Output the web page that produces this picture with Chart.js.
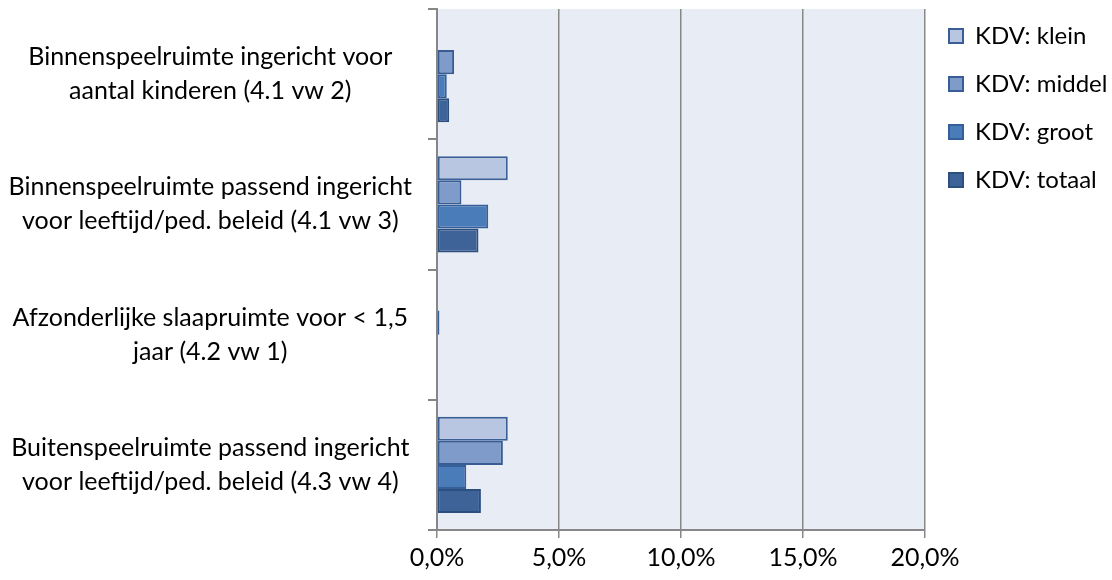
<!DOCTYPE html>
<html>
<head>
<meta charset="utf-8">
<script src="https://cdn.jsdelivr.net/npm/chart.js@4"></script>
<style>
  html, body { margin: 0; padding: 0; background: #fff; }
  #wrap { width: 1112px; height: 580px; }
</style>
</head>
<body>
<div id="wrap"><canvas id="chart" width="1112" height="580"></canvas></div>
<script>
const categories = [
  ["Binnenspeelruimte ingericht voor", "aantal kinderen (4.1 vw 2)"],
  ["Binnenspeelruimte passend ingericht", "voor leeftijd/ped. beleid (4.1 vw 3)"],
  ["Afzonderlijke slaapruimte voor < 1,5", "jaar (4.2 vw 1)"],
  ["Buitenspeelruimte passend ingericht", "voor leeftijd/ped. beleid (4.3 vw 4)"]
];
const seriesNames = ["KDV: klein", "KDV: middel", "KDV: groot", "KDV: totaal"];
const klein = [0, 2.9, 0, 2.9];
const middel = [0.7, 1.0, 0.1, 2.7];
const groot = [0.4, 2.1, 0, 1.2];
const totaal = [0.5, 1.7, 0.03, 1.8];
const xTicks = [0, 5, 10, 15, 20];

const fills = ["#b9c6e1", "#7f9bc9", "#4a7cb9", "#3d6398"];
const borders = ["#3a5f97", "#385d95", "#365f9a", "#2c4f7f"];
const FONT = "Lato";
const GRAY = "#878787";

// light blue plot area like the original
const plotBg = {
  id: "plotBg",
  beforeDraw(c) {
    const a = c.chartArea;
    c.ctx.save();
    c.ctx.fillStyle = "#e8ecf4";
    c.ctx.fillRect(a.left, a.top, a.right - a.left, a.bottom - a.top);
    c.ctx.restore();
  }
};

const values = [klein, middel, groot, totaal];
const datasets = seriesNames.map((n, i) => ({
  label: n,
  data: values[i],
  backgroundColor: fills[i],
  borderColor: borders[i],
  borderWidth: 2,
  borderSkipped: false,
  barPercentage: 1,
  categoryPercentage: 0.74
}));

new Chart(document.getElementById("chart"), {
  type: "bar",
  data: { labels: categories, datasets },
  plugins: [plotBg],
  options: {
    indexAxis: "y",
    responsive: false,
    animation: false,
    layout: { padding: 0, autoPadding: false },
    plugins: {
      tooltip: { enabled: false },
      legend: {
        position: "right",
        align: "start",
        maxWidth: 187,
        labels: {
          font: { family: FONT, size: 24 },
          color: "#000",
          boxWidth: 14,
          boxHeight: 14,
          padding: 24
        }
      }
    },
    scales: {
      x: {
        min: 0,
        max: 20,
        afterBuildTicks: s => { s.ticks = xTicks.map(v => ({ value: v })); },
        afterFit: s => { s.height = 50; s.paddingLeft = 0; s.paddingRight = 0; },
        ticks: {
          font: { family: FONT, size: 25 },
          color: "#000",
          padding: 5,
          callback: v => v.toFixed(1).replace(".", ",") + "%"
        },
        grid: { color: GRAY, lineWidth: 1.5, tickLength: 8 },
        border: { color: GRAY, width: 2 }
      },
      xTop: {
        position: "top",
        axis: "x",
        display: true,
        afterFit: s => { s.height = 9; s.paddingLeft = 0; s.paddingRight = 0; },
        ticks: { display: false },
        grid: { display: false },
        border: { display: false }
      },
      y: {
        afterFit: s => { s.width = 437; s.paddingTop = 0; s.paddingBottom = 0; },
        ticks: {
          font: { family: FONT, size: 25, lineHeight: 1.36 },
          color: "#000",
          padding: 16,
          crossAlign: "center"
        },
        grid: { offset: true, drawOnChartArea: false, color: GRAY, lineWidth: 2, tickLength: 9 },
        border: { color: GRAY, width: 2 }
      }
    }
  }
});
</script>
</body>
</html>
